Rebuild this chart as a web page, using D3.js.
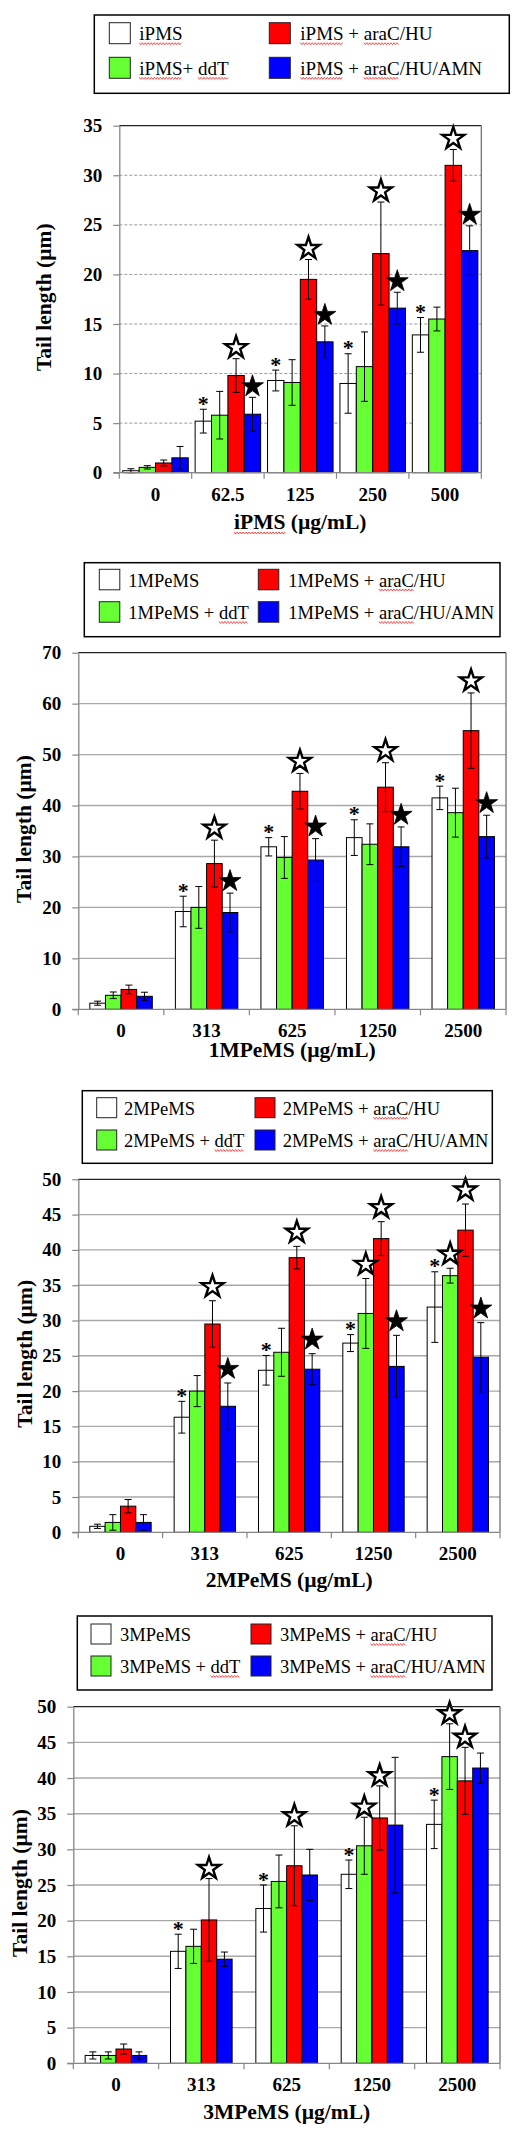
<!DOCTYPE html>
<html>
<head>
<meta charset="utf-8">
<script src="https://cdn.jsdelivr.net/npm/d3@7"></script>
<style>
  body { margin: 0; background: #fff; }
  svg text { font-family: "Liberation Serif", "Times New Roman", serif; }
</style>
</head>
<body>
<script>
// tail length (um) per panel, one array per treatment: base, +ddT, +araC/HU, +araC/HU/AMN

var ipmsDoses = ["0", "62.5", "125", "250", "500"];
var mpemsDoses = ["0", "313", "625", "1250", "2500"];

var ipmsLegend = ["iPMS", "iPMS+ ddT", "iPMS + araC/HU", "iPMS + araC/HU/AMN"];
var mp1Legend = ["1MPeMS", "1MPeMS + ddT", "1MPeMS + araC/HU", "1MPeMS + araC/HU/AMN"];
var mp2Legend = ["2MPeMS", "2MPeMS + ddT", "2MPeMS + araC/HU", "2MPeMS + araC/HU/AMN"];
var mp3Legend = ["3MPeMS", "3MPeMS + ddT", "3MPeMS + araC/HU", "3MPeMS + araC/HU/AMN"];

var ipmsMean = [
  [0.2, 5.2, 9.3, 9.0, 13.9],
  [0.54, 5.8, 9.1, 10.7, 15.5],
  [0.98, 9.8, 19.5, 22.1, 31.0],
  [1.5, 5.9, 13.2, 16.6, 22.4]
];
var ipmsErr = [
  [0.2, 1.2, 1.05, 3.0, 1.75],
  [0.17, 2.4, 2.3, 3.5, 1.2],
  [0.3, 1.7, 2.0, 5.2, 1.6],
  [1.15, 1.7, 1.6, 1.6, 2.5]
];

var mp1Mean = [
  [1.2, 19.2, 31.9, 33.7, 41.5],
  [2.75, 20.0, 29.8, 32.4, 38.6],
  [3.9, 28.6, 42.8, 43.6, 54.7],
  [2.55, 19.0, 29.3, 31.9, 33.9]
];
var mp1Err = [
  [0.4, 3.0, 1.8, 3.5, 2.3],
  [0.65, 4.1, 4.1, 4.0, 4.8],
  [0.85, 4.6, 3.5, 4.8, 7.4],
  [0.8, 3.8, 4.2, 3.9, 4.2]
];

var mp2Mean = [
  [0.85, 16.3, 22.95, 26.8, 31.9],
  [1.4, 20.0, 25.5, 31.0, 36.35],
  [3.7, 29.5, 38.9, 41.6, 42.8],
  [1.4, 17.85, 23.1, 23.5, 24.8]
];
var mp2Err = [
  [0.3, 2.25, 2.1, 1.2, 5.0],
  [1.1, 2.2, 3.4, 4.95, 1.05],
  [0.95, 3.3, 1.6, 2.4, 3.7],
  [1.1, 3.3, 2.2, 4.4, 4.9]
];

var mp3Mean = [
  [1.1, 15.7, 21.7, 26.5, 33.5],
  [1.1, 16.4, 25.5, 30.5, 43.0],
  [2.0, 20.1, 27.7, 34.4, 39.6],
  [1.1, 14.6, 26.4, 33.4, 41.4]
];
var mp3Err = [
  [0.5, 2.4, 3.3, 2.0, 3.4],
  [0.5, 2.4, 3.7, 4.0, 4.6],
  [0.7, 5.8, 5.6, 4.5, 4.7],
  [0.5, 1.0, 3.6, 9.5, 2.1]
];

// significance marks: [dose index, series index, kind]
var ipmsMarks = [
  [1,0,"ast"],[2,0,"ast"],[3,0,"ast"],[4,0,"ast"],
  [1,2,"open"],[2,2,"open"],[3,2,"open"],[4,2,"open"],
  [1,3,"solid"],[2,3,"solid"],[3,3,"solid"],[4,3,"solid"]
];
var mp1Marks = [
  [1,0,"ast"],[2,0,"ast"],[3,0,"ast"],[4,0,"ast"],
  [1,2,"open"],[2,2,"open"],[3,2,"open"],[4,2,"open"],
  [1,3,"solid"],[2,3,"solid"],[3,3,"solid"],[4,3,"solid"]
];
var mp2Marks = [
  [1,0,"ast"],[2,0,"ast"],[3,0,"ast"],[4,0,"ast"],
  [3,1,"open"],[4,1,"open"],
  [1,2,"open"],[2,2,"open"],[3,2,"open"],[4,2,"open"],
  [1,3,"solid"],[2,3,"solid"],[3,3,"solid"],[4,3,"solid"]
];
var mp3Marks = [
  [1,0,"ast"],[2,0,"ast"],[3,0,"ast"],[4,0,"ast"],
  [3,1,"open"],[4,1,"open"],
  [1,2,"open"],[2,2,"open"],[3,2,"open"],[4,2,"open"]
];

var seriesColors = ["#ffffff", "#66ff33", "#ff0000", "#0000ff"];

var panels = [
  {doses: ipmsDoses, legend: ipmsLegend, mean: ipmsMean, err: ipmsErr, marks: ipmsMarks,
   yMax: 35, yStep: 5, xTitle: "iPMS (\u00b5g/mL)", spell: ["iPMS", "araC", "ddT"],
   box: [94.3, 15, 509.3, 93.3], sw: [109.3, 269.3], tx: [139.3, 300.3], rows: [22.7, 57.3], swSize: 21, fs: 19,
   plot: [119.3, 125.7, 481.3, 472.7], pad: 0.21, dashed: true, yTitleX: 43.5, xTitleY: 529, starOff: 11},
  {doses: mpemsDoses, legend: mp1Legend, mean: mp1Mean, err: mp1Err, marks: mp1Marks,
   yMax: 70, yStep: 10, xTitle: "1MPeMS (\u00b5g/mL)", spell: ["araC", "ddT"],
   box: [84.3, 562.7, 500, 636.7], sw: [99.3, 258.3], tx: [128.3, 288.3], rows: [569.3, 601.7], swSize: 20.5, fs: 18.5,
   plot: [78.3, 652.7, 506, 1009.3], pad: 0.74, dashed: false, yTitleX: 24, xTitleY: 1057, starOff: 12},
  {doses: mpemsDoses, legend: mp2Legend, mean: mp2Mean, err: mp2Err, marks: mp2Marks,
   yMax: 50, yStep: 5, xTitle: "2MPeMS (\u00b5g/mL)", spell: ["araC", "ddT"],
   box: [82.3, 1090.7, 492.3, 1163.3], sw: [96.7, 255], tx: [124, 282.7], rows: [1097.7, 1130], swSize: 20, fs: 18.5,
   plot: [78.3, 1179.3, 500, 1532.3], pad: 0.75, dashed: false, yTitleX: 25, xTitleY: 1586.5, starOff: 14},
  {doses: mpemsDoses, legend: mp3Legend, mean: mp3Mean, err: mp3Err, marks: mp3Marks,
   yMax: 50, yStep: 5, xTitle: "3MPeMS (\u00b5g/mL)", spell: ["araC", "ddT"],
   box: [77.3, 1616, 492, 1690], sw: [91, 251], tx: [120, 280], rows: [1624, 1656], swSize: 20, fs: 18.5,
   plot: [73.3, 1706.7, 500, 2063.3], pad: 0.77, dashed: false, yTitleX: 20, xTitleY: 2119, starOff: 10}
];

var svg = d3.select("body").append("svg")
  .attr("width", 523)
  .attr("height", 2133);

// red squiggle under a stretch of text (word-processor spell check)
function squiggle(g, x0, x1, y) {
  var pts = [], up = true;
  for (var x = x0; x <= x1; x += 1.5) { pts.push([x, y + (up ? -1 : 1)]); up = !up; }
  g.append("path").attr("d", d3.line()(pts))
    .attr("fill", "none").attr("stroke", "#ff2020").attr("stroke-width", 0.8);
}

function underlineWords(g, textSel, str, words, baseline) {
  var node = textSel.node(), x0 = +textSel.attr("x");
  words.forEach(function(w) {
    var i = str.indexOf(w);
    if (i < 0) return;
    var start = i > 0 ? node.getSubStringLength(0, i) : 0;
    var len = node.getSubStringLength(i, w.length);
    squiggle(g, x0 + start, x0 + start + len, baseline + 3.5);
  });
}

function drawPanel(p) {
  var L = p.plot[0], T = p.plot[1], R = p.plot[2], B = p.plot[3];
  var g = svg.append("g");

  // legend
  var lg = g.append("g").attr("class", "legend");
  lg.append("rect")
    .attr("x", p.box[0]).attr("y", p.box[1])
    .attr("width", p.box[2] - p.box[0]).attr("height", p.box[3] - p.box[1])
    .attr("fill", "#fff").attr("stroke", "#000").attr("stroke-width", 1.5);
  // order: col 1 = series 0,1 ; col 2 = series 2,3
  p.legend.forEach(function(name, s) {
    var col = s < 2 ? 0 : 1, row = s % 2;
    var top = p.rows[row];
    lg.append("rect")
      .attr("x", p.sw[col]).attr("y", top)
      .attr("width", p.swSize).attr("height", p.swSize)
      .attr("fill", seriesColors[s]).attr("stroke", "#222").attr("stroke-width", 1);
    var base = top + p.swSize / 2 + 7;
    var t = lg.append("text")
      .attr("x", p.tx[col]).attr("y", base)
      .attr("font-size", p.fs)
      .text(name);
    underlineWords(lg, t, name, p.spell, base);
  });

  var x0 = d3.scaleBand().domain(p.doses).range([L, R]).padding(0);
  var x1 = d3.scaleBand().domain([0, 1, 2, 3]).range([0, x0.bandwidth()])
    .paddingInner(0).paddingOuter(p.pad);
  var y = d3.scaleLinear().domain([0, p.yMax]).range([B, T]);
  var ticks = d3.range(0, p.yMax + 0.001, p.yStep);

  // grid lines
  g.append("g").selectAll("line")
    .data(ticks.filter(function(d) { return d > 0 && d < p.yMax; }))
    .enter().append("line")
    .attr("x1", L).attr("x2", R)
    .attr("y1", function(d) { return y(d); }).attr("y2", function(d) { return y(d); })
    .attr("stroke", p.dashed ? "#9a9a9a" : "#a8a8a8")
    .attr("stroke-width", p.dashed ? 1 : 1.4)
    .attr("stroke-dasharray", p.dashed ? "3,2" : null);

  // bars
  var barData = [];
  p.mean.forEach(function(arr, s) {
    arr.forEach(function(v, i) {
      barData.push({dose: p.doses[i], s: s, v: v, e: p.err[s][i]});
    });
  });
  g.append("g").selectAll("rect")
    .data(barData)
    .enter().append("rect")
    .attr("x", function(d) { return x0(d.dose) + x1(d.s); })
    .attr("y", function(d) { return y(d.v); })
    .attr("width", x1.bandwidth())
    .attr("height", function(d) { return y(0) - y(d.v); })
    .attr("fill", function(d) { return seriesColors[d.s]; })
    .attr("stroke", "#000").attr("stroke-width", 1);

  // error bars
  var cx = function(d) { return x0(d.dose) + x1(d.s) + x1.bandwidth() / 2; };
  var eg = g.append("g").attr("stroke", "#000").attr("stroke-width", 1);
  barData.forEach(function(d) {
    var xc = cx(d), lo = y(Math.max(0, d.v - d.e)), hi = y(d.v + d.e);
    eg.append("line").attr("x1", xc).attr("x2", xc).attr("y1", lo).attr("y2", hi);
    eg.append("line").attr("x1", xc - 3.5).attr("x2", xc + 3.5).attr("y1", lo).attr("y2", lo);
    eg.append("line").attr("x1", xc - 3.5).attr("x2", xc + 3.5).attr("y1", hi).attr("y2", hi);
  });

  // significance marks
  var star = d3.symbol().type(d3.symbolStar).size(150);
  p.marks.forEach(function(m) {
    var d = {dose: p.doses[m[0]], s: m[1]};
    var xc = cx(d);
    var cap = y(p.mean[m[1]][m[0]] + p.err[m[1]][m[0]]);
    if (m[2] === "ast") {
      g.append("text")
        .attr("x", xc).attr("y", cap + 1.5)
        .attr("text-anchor", "middle")
        .attr("font-size", 22).attr("font-weight", "bold")
        .text("*");
    } else {
      g.append("path")
        .attr("d", star)
        .attr("transform", "translate(" + xc + "," + (cap - p.starOff) + ")")
        .attr("fill", m[2] === "open" ? "#fff" : "#000")
        .attr("stroke", "#000")
        .attr("stroke-width", m[2] === "open" ? 2.4 : 0.8)
        .attr("stroke-linejoin", "miter");
    }
  });

  // frame (top / right)
  g.append("line").attr("x1", L).attr("x2", R).attr("y1", T).attr("y2", T)
    .attr("stroke", "#222").attr("stroke-width", 1.2);
  g.append("line").attr("x1", R).attr("x2", R).attr("y1", T).attr("y2", B)
    .attr("stroke", "#666").attr("stroke-width", 1.2);

  // y axis
  var yAxis = d3.axisLeft(y).tickValues(ticks).tickSize(6).tickSizeOuter(0).tickPadding(11)
    .tickFormat(d3.format("d"));
  var ya = g.append("g").attr("transform", "translate(" + L + ",0)").call(yAxis);
  ya.select(".domain").attr("stroke", "#868686").attr("stroke-width", 1.3);
  ya.selectAll(".tick line").attr("stroke", "#868686").attr("stroke-width", 1.2);
  ya.selectAll(".tick text")
    .attr("font-family", "'Liberation Serif', 'Times New Roman', serif")
    .attr("font-size", 19).attr("font-weight", "bold").attr("fill", "#000");

  // x axis: line, boundary ticks, category labels
  var bounds = p.doses.map(function(d) { return x0(d); }).concat([R]);
  g.append("line").attr("x1", L - 6).attr("x2", R).attr("y1", B).attr("y2", B)
    .attr("stroke", "#868686").attr("stroke-width", 1.3);
  g.append("g").selectAll("line").data(bounds).enter().append("line")
    .attr("x1", function(d) { return d; }).attr("x2", function(d) { return d; })
    .attr("y1", B).attr("y2", B + 6)
    .attr("stroke", "#868686").attr("stroke-width", 1.2);
  var xAxis = d3.axisBottom(x0).tickSize(0).tickPadding(0);
  var xa = g.append("g").attr("transform", "translate(0," + B + ")").call(xAxis);
  xa.select(".domain").remove();
  xa.selectAll(".tick text")
    .attr("dy", null).attr("y", 28)
    .attr("font-family", "'Liberation Serif', 'Times New Roman', serif")
    .attr("font-size", 19).attr("font-weight", "bold").attr("fill", "#000");

  // axis titles
  var xt = g.append("text")
    .attr("x", (L + R) / 2).attr("y", p.xTitleY)
    .attr("text-anchor", "middle")
    .attr("font-size", 21.5).attr("font-weight", "bold")
    .text(p.xTitle);
  if (p.spell.indexOf("iPMS") >= 0) {
    var w = xt.node().getComputedTextLength();
    var xs = (L + R) / 2 - w / 2;
    squiggle(g, xs, xs + xt.node().getSubStringLength(0, 4), p.xTitleY + 4);
  }
  g.append("text")
    .attr("transform", "translate(" + p.yTitleX + "," + ((T + B) / 2 - 2) + ") rotate(-90)")
    .attr("text-anchor", "middle")
    .attr("dominant-baseline", "central")
    .attr("font-size", 21.5).attr("font-weight", "bold")
    .text("Tail length (\u00b5m)");
}

panels.forEach(drawPanel);
</script>
</body>
</html>
